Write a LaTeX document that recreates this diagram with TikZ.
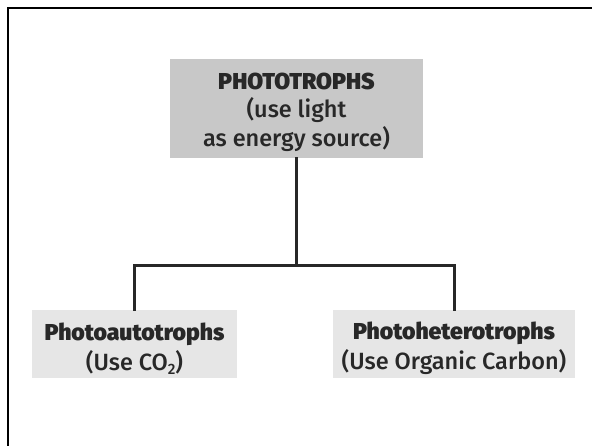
\documentclass[tikz,border=0pt]{standalone}
\usepackage{fontspec}
\setmainfont{Fira Sans}
\newfontfamily\medfont{Fira Sans Medium}
\newfontfamily\heavyfont{Fira Sans Black}
\definecolor{topgray}{RGB}{200,200,200}
\definecolor{leafgray}{RGB}{230,230,230}
\definecolor{ink}{RGB}{40,40,40}
\newcommand\headtext{\fontsize{23}{28.5}\selectfont\heavyfont}
\newcommand\subtext{\fontsize{23.5}{28.5}\selectfont\medfont}
\newcommand\sub[1]{\raisebox{-4pt}{\fontsize{15}{15}\selectfont #1}}

\begin{document}
\begin{tikzpicture}[x=1pt,y=1pt,line cap=rect,line join=miter,
        box/.style={fill=#1,inner sep=0pt,align=center,text=ink,font=\subtext},
        link/.style={ink,line width=3pt}]
    \useasboundingbox (0,0) rectangle (592,445);
    % frame (only left and top edges are in the crop)
    \draw[line width=2pt] (8,0) -- (8,437) -- (592,437);
    \node[box=topgray,minimum width=253pt,minimum height=99pt] (photo) at (296.5,336.5)
        {\headtext\rule{0pt}{24pt}PHOTOTROPHS\\(use light\\as energy source)};
    \node[box=leafgray,minimum width=205pt,minimum height=68pt] (auto) at (134.5,101)
        {\headtext\rule{0pt}{26pt}Photoautotrophs\\[1.5pt](Use CO\sub{2})};
    \node[box=leafgray,minimum width=242pt,minimum height=68pt] (hetero) at (454,101)
        {\headtext\rule{0pt}{26pt}Photoheterotrophs\\[1.5pt](Use Organic Carbon)};
    \draw[link] (photo.south) -- ++(0,-107) coordinate (split);
    \draw[link] (auto.north) |- (split) -| (hetero.north);
\end{tikzpicture}
\end{document}
